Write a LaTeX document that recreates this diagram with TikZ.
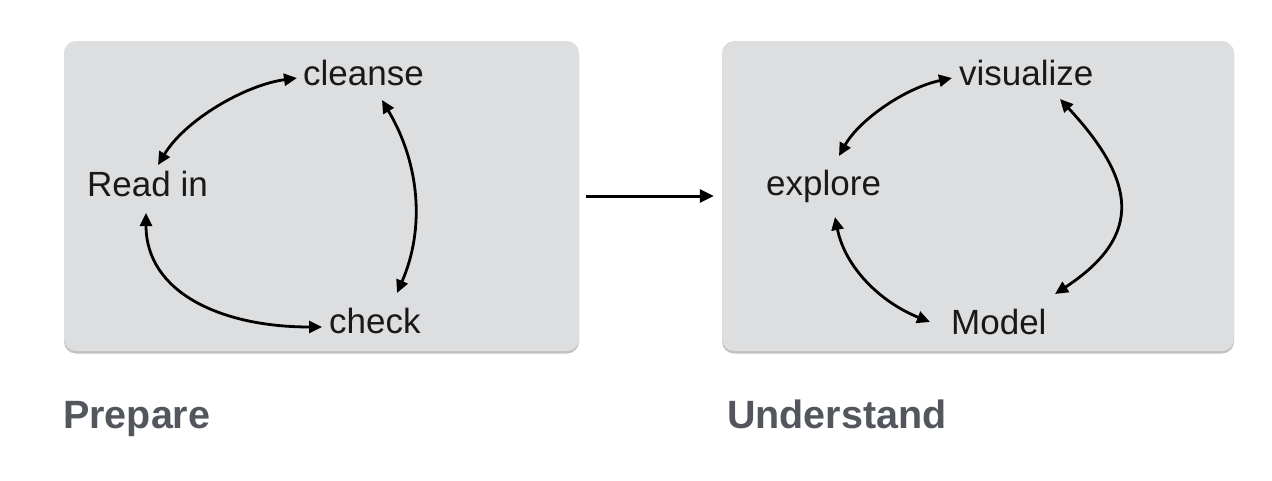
\documentclass[tikz,border=0pt]{standalone}
\usepackage{fontspec}
\setmainfont{Liberation Sans}
\usetikzlibrary{arrows.meta,shadows}
\definecolor{boxgray}{HTML}{DDDEE0}
\definecolor{labelgray}{HTML}{53575D}
\tikzset{
  panel/.style={fill=boxgray, draw=none, rounded corners=12pt, inner sep=0pt,
    drop shadow={shadow xshift=0pt, shadow yshift=-2.5pt, opacity=0.4, fill=black!60}},
  word/.style={anchor=base west, inner sep=0pt, font=\fontsize{35}{40}\selectfont, text=black!90},
  title/.style={anchor=base west, inner sep=0pt, font=\fontsize{39.5}{44}\selectfont\bfseries, text=labelgray},
  cyc/.style={line width=2.8pt, {Triangle[length=13pt,width=12pt]}-{Triangle[length=13pt,width=12pt]}},
  flow/.style={line width=3pt, -{Triangle[length=14pt,width=13pt]}}
}
\begin{document}
\begin{tikzpicture}[x=1pt,y=-1pt]
\fill[white] (0,0) rectangle (1272,480);
\useasboundingbox (0,0) rectangle (1272,480);
% panels
\node[panel, minimum width=515pt, minimum height=310pt] (leftbox) at (321.5,196) {};
\node[panel, minimum width=512pt, minimum height=310pt] (rightbox) at (978,196) {};
% words left
\node[word] (cleanse) at (303,85) {cleanse};
\node[word] (readin) at (87,196) {Read in};
\node[word] (check) at (329,333) {check};
% words right
\node[word] (visualize) at (959,85) {visualize};
\node[word] (explore) at (766,195) {explore};
\node[word] (model) at (951,334) {Model};
% titles
\node[title] (prepare) at (63,428) {Prepare};
\node[title] (understand) at (727,428) {Understand};
% left cycle
\draw[cyc] ([shift={(71,-31)}]readin.base west) .. controls +(27,-45) and +(-52,7) .. ([shift={(-6,-7)}]cleanse.base west);
\draw[cyc] ([shift={(79,15)}]cleanse.base west) .. controls +(38,64) and +(28,-64) .. ([shift={(68,-40)}]check.base west);
\draw[cyc] ([shift={(59,17)}]readin.base west) .. controls +(0,80) and +(-100,0) .. ([shift={(-7,-6)}]check.base west);
% right cycle
\draw[cyc] ([shift={(73,-39)}]explore.base west) .. controls +(20,-36) and +(-47,10) .. ([shift={(-7,-7)}]visualize.base west);
\draw[cyc] ([shift={(101,14)}]visualize.base west) .. controls +(75,81) and +(90,-59) .. ([shift={(104,-40)}]model.base west);
\draw[cyc] ([shift={(69,22)}]explore.base west) .. controls +(10,50) and +(-50,-20) .. ([shift={(-21,-12)}]model.base west);
% flow arrow
\draw[flow] ([xshift=7pt]leftbox.east) -- ([xshift=-8pt]rightbox.west);
\end{tikzpicture}
\end{document}
